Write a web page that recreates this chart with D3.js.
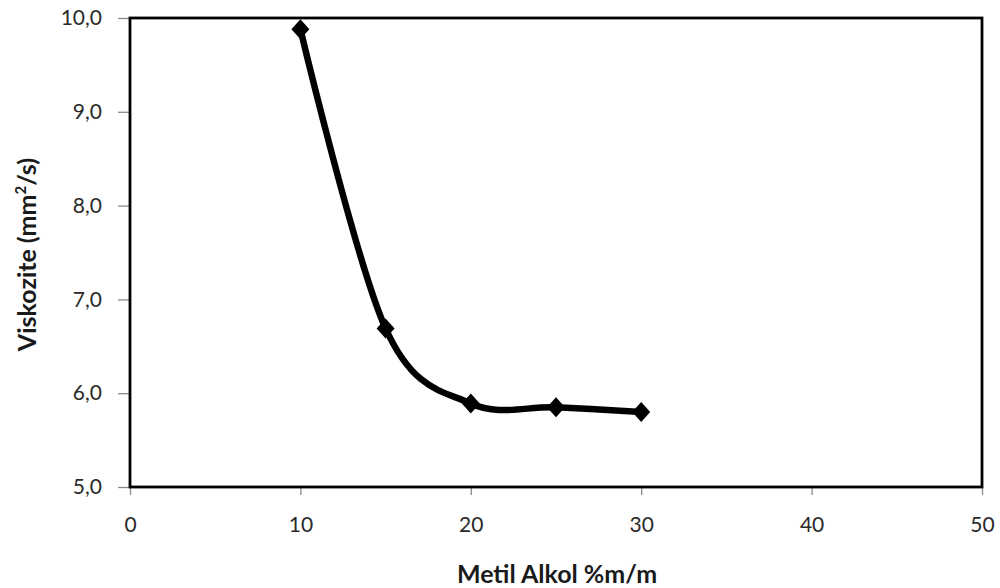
<!DOCTYPE html>
<html>
<head>
<meta charset="utf-8">
<script src="https://cdn.jsdelivr.net/npm/d3@7"></script>
<style>
  html, body { margin: 0; padding: 0; background: #fff; }
  svg { display: block; }
  text { font-family: Lato, "Open Sans", sans-serif; }
</style>
</head>
<body>
<svg id="chart" width="1000" height="588"></svg>
<script>
// Methyl alcohol content (% m/m) vs. kinematic viscosity (mm²/s)
const metilAlkol = [10, 15, 20, 25, 30];
const viskozite = [9.88, 6.69, 5.89, 5.85, 5.80];
const xTicks = [0, 10, 20, 30, 40, 50];
const yTicks = [5, 6, 7, 8, 9, 10];

const W = 1000, H = 588;
const m = { left: 130, right: 18, top: 18, bottom: 101 };
const svg = d3.select("#chart");

const x = d3.scaleLinear().domain([0, 50]).range([m.left, W - m.right]);
const y = d3.scaleLinear().domain([5, 10]).range([H - m.bottom, m.top]);
const fmt = d => d3.format(".1f")(d).replace(".", ",");

// y axis
const gy = svg.append("g").attr("transform", `translate(${m.left},0)`)
  .call(d3.axisLeft(y).tickValues(yTicks).tickSize(12).tickPadding(16).tickFormat(fmt));
gy.select(".domain").remove();
gy.selectAll("line").attr("stroke", "#8a8a8a").attr("stroke-width", 1.3);
gy.selectAll("text").attr("font-size", 21).attr("fill", "#2a2a2a");

// x axis
const gx = svg.append("g").attr("transform", `translate(0,${H - m.bottom})`)
  .call(d3.axisBottom(x).tickValues(xTicks).tickSize(8).tickPadding(22).tickFormat(d3.format("d")));
gx.select(".domain").remove();
gx.selectAll("line").attr("stroke", "#8a8a8a").attr("stroke-width", 1.3);
gx.selectAll("text").attr("font-size", 21).attr("fill", "#2a2a2a");

// plot frame
svg.append("rect")
  .attr("x", m.left).attr("y", m.top)
  .attr("width", W - m.right - m.left).attr("height", H - m.bottom - m.top)
  .attr("fill", "none").attr("stroke", "#000").attr("stroke-width", 2.8);

// smoothed series line
const line = d3.line()
  .x((d, i) => x(metilAlkol[i]))
  .y(d => y(d))
  .curve(d3.curveCardinal.tension(0));
svg.append("path")
  .datum(viskozite)
  .attr("d", line)
  .attr("fill", "none").attr("stroke", "#000")
  .attr("stroke-width", 6.5).attr("stroke-linejoin", "round").attr("stroke-linecap", "round");

// diamond markers
svg.append("g").selectAll("path")
  .data(viskozite)
  .join("path")
  .attr("transform", (d, i) => `translate(${x(metilAlkol[i])},${y(d)})`)
  .attr("d", "M0,-10L9,0L0,10L-9,0Z")
  .attr("fill", "#000");

// axis titles
svg.append("text")
  .attr("transform", `translate(36,${(m.top + H - m.bottom) / 2 + 2}) rotate(-90)`)
  .attr("text-anchor", "middle")
  .attr("font-size", 25).attr("font-weight", "bold").attr("fill", "#1a1a1a")
  .html('Viskozite (mm<tspan font-size="15" dy="-10">2</tspan><tspan dy="10">/s)</tspan>');

svg.append("text")
  .attr("x", 557).attr("y", 583)
  .attr("text-anchor", "middle")
  .attr("font-size", 25).attr("font-weight", "bold").attr("fill", "#1a1a1a")
  .text("Metil Alkol %m/m");
</script>
</body>
</html>
